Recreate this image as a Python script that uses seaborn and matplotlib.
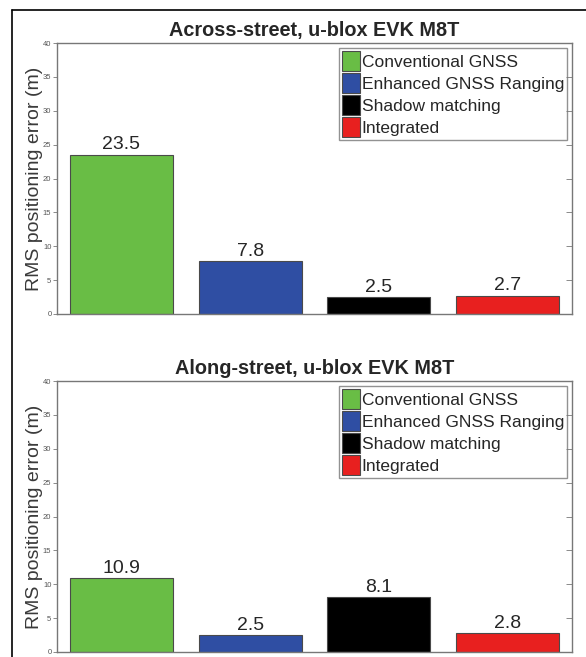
import pandas as pd
import numpy as np
import matplotlib
matplotlib.use("Agg")
import matplotlib.pyplot as plt
import seaborn as sns
from matplotlib.lines import Line2D

# Data

methods = ["Conventional GNSS", "Enhanced GNSS Ranging", "Shadow matching", "Integrated"]
across_rms = [23.5, 7.8, 2.5, 2.7]
along_rms = [10.9, 2.5, 8.1, 2.8]
titles = ["Across-street, u-blox EVK M8T", "Along-street, u-blox EVK M8T"]
bar_colors = ["#69bd45", "#2f4ea3", "#000000", "#e8201f"]
yticks = [0, 5, 10, 15, 20, 25, 30, 35, 40]

sns.set_style("white")
plt.rcParams['font.family'] = ['Liberation Sans', 'DejaVu Sans']

fig = plt.figure(figsize=(5.86, 6.57), dpi=100)

# outer frame (left and top edges only)
fig.add_artist(Line2D([12/586, 12/586], [0, 1 - 10/657], transform=fig.transFigure,
                      color="black", lw=1.2))
fig.add_artist(Line2D([12/586, 1], [1 - 10/657, 1 - 10/657], transform=fig.transFigure,
                      color="black", lw=1.2))

positions = [
    [57/586, 1 - 314/657, 515/586, 271/657],
    [57/586, 1 - 652/657, 515/586, 271/657],
]

for pos, values, title in zip(positions, [across_rms, along_rms], titles):
    ax = fig.add_axes(pos)
    df = pd.DataFrame({"Method": methods, "RMS": values})
    sns.barplot(
        data=df,
        x="Method",
        y="RMS",
        hue="Method",
        palette=bar_colors,
        width=0.8,
        edgecolor="#4a4a4a",
        linewidth=0.8,
        saturation=1,
        legend=False,
        ax=ax,
    )
    for c in ax.containers:
        ax.bar_label(c, fmt="%.1f", fontsize=14, padding=1)

    ax.set_xlim(-0.5, 3.5)
    ax.set_ylim(0, 40)
    ax.set_yticks(yticks)
    ax.set_xticks([])
    ax.set_xlabel("")
    ax.set_ylabel("RMS positioning error (m)", fontsize=14, color="#3a3a3a", labelpad=0)
    ax.tick_params(axis="y", direction="out", length=3, width=0.6, colors="#777777",
                   labelsize=5.5, labelcolor="#555555", pad=1)
    for s in ax.spines.values():
        s.set_color("#777777")
        s.set_linewidth(1.0)

    # inward ticks on the right side
    ax2 = ax.twinx()
    ax2.set_ylim(0, 40)
    ax2.set_yticks(yticks)
    ax2.set_yticklabels([])
    ax2.tick_params(axis="y", direction="in", length=4, width=0.6, colors="#777777")
    for s in ax2.spines.values():
        s.set_visible(False)

    ax.set_title(title, fontsize=14.3, fontweight="bold", pad=5)

    # legend entries taken from the drawn bars
    handles = list(ax.patches[:len(methods)])
    ax.legend(handles, methods, loc="upper right", fontsize=12.5,
              frameon=True, fancybox=False, edgecolor="#777777",
              handlelength=1.05, handleheight=1.4, handletextpad=0.1,
              labelspacing=0.12, borderpad=0.15, borderaxespad=0.3)

plt.savefig("out.png", dpi=100)
